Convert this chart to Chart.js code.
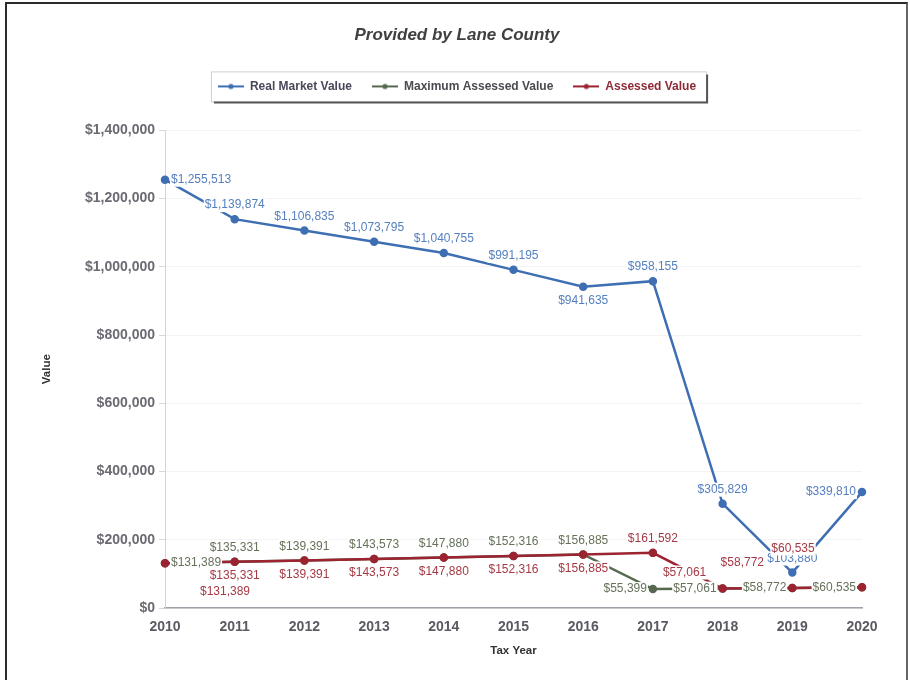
<!DOCTYPE html>
<html>
<head>
<meta charset="utf-8">
<script src="https://cdn.jsdelivr.net/npm/chart.js@4.4.1/dist/chart.umd.min.js"></script>
<style>
  html, body { margin: 0; padding: 0; background: #fff; }
  #wrap { position: relative; width: 910px; height: 680px; overflow: hidden; }
  #frame { position: absolute; left: 5px; top: 2px; width: 899px; height: 700px;
           border: 2px solid #2b2b2b; border-right-color: #666; pointer-events: none; }
</style>
</head>
<body>
<div id="wrap">
  <canvas id="valueChart" width="910" height="680"></canvas>
  <div id="frame"></div>
</div>
<script>
// --- data ---
const years = ['2010', '2011', '2012', '2013', '2014', '2015', '2016', '2017', '2018', '2019', '2020'];
const realMarketValue = [1255513, 1139874, 1106835, 1073795, 1040755, 991195, 941635, 958155, 305829, 103880, 339810];
const maxAssessedValue = [131389, 135331, 139391, 143573, 147880, 152316, 156885, 55399, 57061, 58772, 60535];
const assessedValue = [131389, 135331, 139391, 143573, 147880, 152316, 156885, 161592, 57061, 58772, 60535];
const yMax = 1400000;
const yStep = 200000;

// where each value label sits relative to its point (a=above, b=below, r=right, l=left, or [dx,dy])
const rmvLabelAt = ['r', 'a', 'a', 'a', 'a', 'a', 'b', 'a', 'a', 'a', 'l'];
const mavLabelAt = ['r', 'a', 'a', 'a', 'a', 'a', 'a', 'l', 'l', 'l', 'l'];
const avLabelAt = [[60, 29], 'b', 'b', 'b', 'b', 'b', 'b', 'a', [-38, -16], [-50, -25], [-69, -39]];

const money = v => '$' + v.toLocaleString('en-US');
const FONT = '"Liberation Sans", Arial, sans-serif';

// little line+dot icon for the legend
function legendIcon(color) {
    const c = document.createElement('canvas');
    c.width = 26; c.height = 8;
    const g = c.getContext('2d');
    g.strokeStyle = color; g.lineWidth = 2;
    g.beginPath(); g.moveTo(0, 4); g.lineTo(26, 4); g.stroke();
    g.fillStyle = color;
    g.beginPath(); g.arc(13, 4, 2.6, 0, Math.PI * 2); g.fill();
    return c;
}

// value labels with white boxes behind them
const valueLabels = {
    id: 'valueLabels',
    afterDatasetsDraw(chart) {
        const ctx = chart.ctx;
        ctx.save();
        ctx.font = '12px ' + FONT;
        ctx.textBaseline = 'middle';
        ctx.textAlign = 'center';
        chart.data.datasets.forEach((ds, i) => {
            const meta = chart.getDatasetMeta(i);
            meta.data.forEach((pt, j) => {
                const text = money(ds.data[j]);
                const w = ctx.measureText(text).width;
                const pos = ds.labelAt[j];
                let cx = pt.x, cy = pt.y;
                if (pos === 'a') cy -= 14;
                else if (pos === 'b') cy += 14;
                else if (pos === 'r') cx += 6 + w / 2;
                else if (pos === 'l') cx -= 6 + w / 2;
                else { cx += pos[0]; cy += pos[1]; }
                ctx.fillStyle = '#fff';
                ctx.fillRect(cx - w / 2 - 1, cy - 7, w + 2, 14);
                ctx.fillStyle = ds.labelColor;
                ctx.fillText(text, cx, cy);
            });
        });
        ctx.restore();
    }
};

// extra room under the legend + the framed legend box
const legendBox = {
    id: 'legendBox',
    afterInit(chart) {
        const fit = chart.legend.fit;
        chart.legend.fit = function () { fit.call(this); this.height += 28; };
    },
    afterDraw(chart) {
        const hb = chart.legend.legendHitBoxes;
        if (!hb || !hb.length) return;
        const l = Math.min(...hb.map(h => h.left)) - 7;
        const r = Math.max(...hb.map(h => h.left + h.width)) + 10;
        const cy = hb[0].top + hb[0].height / 2;
        const t = cy - 15, b = cy + 15;
        const ctx = chart.ctx;
        ctx.save();
        ctx.strokeStyle = '#d0d0d0'; ctx.lineWidth = 1;
        ctx.strokeRect(l + 0.5, t + 0.5, r - l, b - t);
        ctx.strokeStyle = '#555'; ctx.lineWidth = 2;
        ctx.beginPath();
        ctx.moveTo(l + 3, b + 1); ctx.lineTo(r + 1, b + 1); ctx.lineTo(r + 1, t + 3);
        ctx.stroke();
        ctx.restore();
    }
};

const ctxCanvas = document.getElementById('valueChart');
new Chart(ctxCanvas, {
    type: 'line',
    data: {
        labels: years,
        datasets: [
            {
                label: 'Real Market Value',
                data: realMarketValue,
                borderColor: '#3f6fb3',
                backgroundColor: '#3f6fb3',
                borderWidth: 2.5,
                pointRadius: 3,
                tension: 0,
                order: 0,
                labelAt: rmvLabelAt,
                labelColor: '#5580bf',
                legendColor: '#48485a'
            },
            {
                label: 'Maximum Assessed Value',
                data: maxAssessedValue,
                borderColor: '#56694f',
                backgroundColor: '#56694f',
                borderWidth: 2.5,
                pointRadius: 3,
                tension: 0,
                order: 2,
                labelAt: mavLabelAt,
                labelColor: '#66725a',
                legendColor: '#4a4a50'
            },
            {
                label: 'Assessed Value',
                data: assessedValue,
                borderColor: '#9c2330',
                backgroundColor: '#9c2330',
                borderWidth: 2.5,
                pointRadius: 3,
                tension: 0,
                order: 1,
                labelAt: avLabelAt,
                labelColor: '#a53a45',
                legendColor: '#8c2a36'
            }
        ]
    },
    options: {
        responsive: false,
        animation: false,
        layout: { padding: { left: 52, right: 48, top: 20, bottom: 0 } },
        plugins: {
            title: {
                display: true,
                text: 'Provided by Lane County',
                color: '#404040',
                font: { family: FONT, size: 17, style: 'italic' },
                padding: { top: 5, bottom: 15 }
            },
            legend: {
                display: true,
                position: 'top',
                labels: {
                    usePointStyle: true,
                    pointStyleWidth: 26,
                    padding: 20,
                    font: { family: FONT, size: 12, weight: 'bold' },
                    generateLabels: chart => chart.data.datasets.map((ds, i) => ({
                        text: ds.label,
                        fontColor: ds.legendColor,
                        pointStyle: legendIcon(ds.borderColor),
                        fillStyle: ds.borderColor,
                        strokeStyle: ds.borderColor,
                        lineWidth: 0,
                        hidden: false,
                        datasetIndex: i
                    }))
                }
            },
            tooltip: { enabled: false }
        },
        scales: {
            x: {
                afterFit: s => { s.height = 72; },
                grid: { display: true, drawOnChartArea: false, color: 'rgba(0,0,0,0)', tickLength: 6 },
                border: { display: true, color: '#a0a0a8', width: 1.5 },
                ticks: { color: '#5a5a62', padding: 5, font: { family: FONT, size: 14, weight: 'bold' } },
                title: {
                    display: true, text: 'Tax Year', color: '#333',
                    font: { family: FONT, size: 11.5, weight: 'bold' },
                    padding: { top: 4, bottom: 22 }
                }
            },
            y: {
                min: 0,
                max: yMax,
                afterFit: s => { s.width = 113; },
                grid: { color: '#f3f3f3', tickLength: 6, tickColor: '#d8d8d8' },
                border: { display: true, color: '#d4d4d8' },
                ticks: {
                    stepSize: yStep,
                    padding: 4,
                    color: '#6a6a72',
                    font: { family: FONT, size: 14, weight: 'bold' },
                    callback: v => money(v)
                },
                title: {
                    display: true, text: 'Value', color: '#333',
                    font: { family: FONT, size: 11.5, weight: 'bold' },
                    padding: { top: -12, bottom: 4 }
                }
            }
        }
    },
    plugins: [valueLabels, legendBox]
});
</script>
</body>
</html>
